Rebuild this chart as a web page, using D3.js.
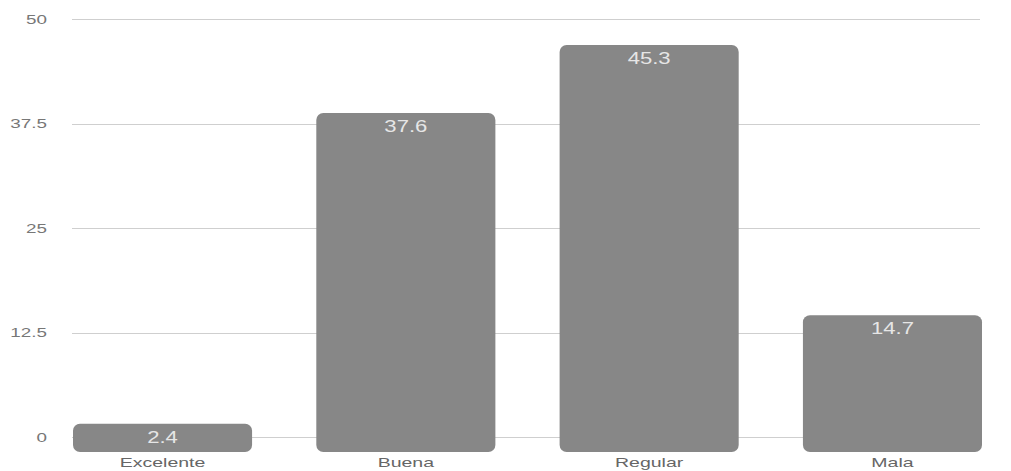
<!DOCTYPE html>
<html>
<head>
<meta charset="utf-8">
<script src="https://cdn.jsdelivr.net/npm/d3@7"></script>
<style>
  html, body { margin: 0; padding: 0; background: #fff; }
  svg { display: block; font-family: "Liberation Sans", Arial, sans-serif; }
</style>
</head>
<body>
<svg id="chart" width="1011" height="471"></svg>
<script>
const categories = ["Excelente", "Buena", "Regular", "Mala"];
const values = [2.4, 37.6, 45.3, 14.7];
const tickValues = [0, 12.5, 25, 37.5, 50];
const tickLabels = ["0", "12.5", "25", "37.5", "50"];

const svg = d3.select("#chart");

const x = d3.scaleBand().domain(categories).range([73, 982]).paddingInner(0.264).paddingOuter(0);
// gridline / axis scale
const yAxis = d3.scaleLinear().domain([0, 50]).range([437, 19]);
// bars are drawn on a slightly offset scale in the reference
const yBar = d3.scaleLinear().domain([0, 50]).range([445, 3.5]);

// gridlines
svg.append("g").selectAll("line").data(tickValues).join("line")
  .attr("x1", 72).attr("x2", 980)
  .attr("y1", d => Math.round(yAxis(d)) + 0.5).attr("y2", d => Math.round(yAxis(d)) + 0.5)
  .attr("stroke", "#cfcfcf").attr("stroke-width", 1);

// tick labels (reference text is horizontally stretched)
svg.append("g").selectAll("text").data(tickValues).join("text")
  .attr("transform", d => `translate(47,${yAxis(d)}) scale(1.45,1)`)
  .attr("dy", "0.35em").attr("text-anchor", "end")
  .attr("font-size", 13).attr("fill", "#777")
  .text((d, i) => tickLabels[i]);

// bars
svg.append("g").selectAll("rect").data(values).join("rect")
  .attr("x", (d, i) => x(categories[i]))
  .attr("width", x.bandwidth())
  .attr("y", d => yBar(d))
  .attr("height", d => yBar(0) - yBar(d) + 7)
  .attr("rx", 7).attr("ry", 7)
  .attr("fill", "#878787");

// value labels
svg.append("g").selectAll("text").data(values).join("text")
  .attr("transform", (d, i) => `translate(${x(categories[i]) + x.bandwidth() / 2},${yBar(d) + 19}) scale(1.3,1)`)
  .attr("text-anchor", "middle")
  .attr("font-size", 17).attr("fill", "#e6e6e6")
  .text(d => d);

// category labels
svg.append("g").selectAll("text").data(categories).join("text")
  .attr("transform", d => `translate(${x(d) + x.bandwidth() / 2},467) scale(1.5,1)`)
  .attr("text-anchor", "middle")
  .attr("font-size", 13).attr("fill", "#666")
  .text(d => d);
</script>
</body>
</html>
